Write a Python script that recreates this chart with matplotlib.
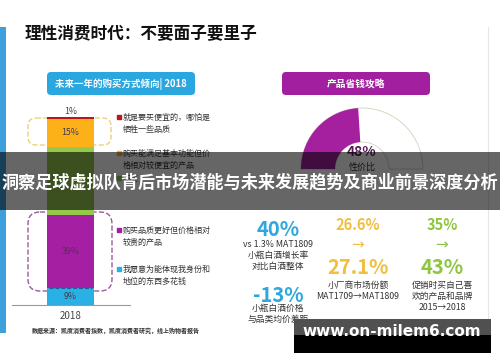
import matplotlib
matplotlib.use('Agg')
import matplotlib.pyplot as plt
from matplotlib.patches import Rectangle, FancyBboxPatch, Wedge

plt.rcParams['font.family'] = ['Noto Sans CJK SC', 'DejaVu Sans']

# --- data ---
title = '理性消费时代：不要面子要里子'
left_header = '未来一年的购买方式倾向| 2018'
right_header = '产品省钱攻略'
year_label = '2018'
share_labels = [
    '就是要买便宜的，哪怕是\n牺牲一些品质',
    '购买能满足基本功能但价\n格相对较便宜的产品',
    '不变',
    '购买品质更好但价格相对\n较贵的产品',
    '我愿意为能体现我身份和\n地位的东西多花钱',
]
shares = [1, 15, 36, 39, 9]  # top to bottom
share_colors = ['#c0141b', '#fbb117', '#93c84b', '#a41fa2', '#29b1e6']
gauge_value = 48
gauge_label = '性价比'
source_note = '数据来源：凯度消费者指数，凯度消费者研究，线上购物者报告'

stat_big = ['40%', '-13%']
stat_big_notes = ['vs 1.3% MAT1809\n小瓶白酒增长率\n对比白酒整体', '小瓶白酒价格\n与品类均价差距']
shift_before = ['26.6%', '35%']
shift_after = ['27.1%', '43%']
shift_notes = ['小厂商市场份额\nMAT1709→MAT1809', '促销时买自己喜\n欢的产品和品牌\n2015→2018']
shift_colors = ['#f2be3c', '#8dc63f']
stat_blue = '#2ea8dc'

overlay_text = '洞察足球虚拟队背后市场潜能与未来发展趋势及商业前景深度分析'
watermark = 'www.on-milem6.com'

W, H = 500, 362
fig = plt.figure(figsize=(W / 100, H / 100), dpi=100)

# background axes in pixel units
ax = fig.add_axes([0, 0, 1, 1])
ax.set_xlim(0, W)
ax.set_ylim(H, 0)
ax.axis('off')

ax.add_patch(Rectangle((0, 27), 6, 306, color='#3d9fdc', lw=0))
ax.plot([488, 488], [27, 335], color='#e6e6e6', lw=0.8)

ax.text(25, 34, title, fontsize=12, fontweight='black', color='#111111', va='center')

ax.add_patch(FancyBboxPatch((47, 72), 148, 23, boxstyle='round,pad=0,rounding_size=4',
                            fc='#2aa7df', ec='none'))
ax.text(121, 83.5, left_header, fontsize=6.8, fontweight='bold', color='white',
        ha='center', va='center')

ax.add_patch(FancyBboxPatch((282, 72), 148, 23, boxstyle='round,pad=0,rounding_size=4',
                            fc='#a21fa0', ec='none'))
ax.text(356, 83.5, right_header, fontsize=7, fontweight='bold', color='white',
        ha='center', va='center')

# dashed groupings around the bar
ax.add_patch(FancyBboxPatch((28, 118), 83, 27, boxstyle='round,pad=0,rounding_size=8',
                            fc='none', ec='#ead27a', lw=1, ls='--'))
ax.add_patch(FancyBboxPatch((28, 212), 84, 79, boxstyle='round,pad=0,rounding_size=12',
                            fc='none', ec='#9b5a9b', lw=1, ls='--'))

# legend
legend_y = [117, 153, 178, 230, 269]
for lab, col, y in zip(share_labels, share_colors, legend_y):
    ax.plot(119, y, marker='s', ms=3, color=col)
    ax.text(123, y - 4.5, lab, fontsize=5.8, color='#333333', va='top', linespacing=1.45)

ax.text(32, 330, source_note, fontsize=4.3, fontweight='bold', color='#333333', va='center')

# stats block
col_x = [278, 358, 442]
ax.text(col_x[0], 230, stat_big[0], fontsize=14.5, fontweight='bold', color=stat_blue,
        ha='center', va='center')
ax.text(col_x[0], 240, stat_big_notes[0], fontsize=6.3, color='#333333', ha='center',
        va='top', linespacing=1.3)
ax.text(col_x[0], 295, stat_big[1], fontsize=14.5, fontweight='bold', color=stat_blue,
        ha='center', va='center')
ax.text(col_x[0], 304, stat_big_notes[1], fontsize=6.3, color='#333333', ha='center',
        va='top', linespacing=1.3)
for i in range(2):
    x = col_x[i + 1]
    c = shift_colors[i]
    ax.text(x, 225, shift_before[i], fontsize=10.5, fontweight='bold', color=c,
            ha='center', va='center')
    ax.text(x, 245, '→', fontsize=11, color=c, ha='center', va='center',
            family='DejaVu Sans')
    ax.text(x, 268, shift_after[i], fontsize=14.5, fontweight='bold', color=c,
            ha='center', va='center')
    ax.text(x, 281, shift_notes[i], fontsize=6.3, color='#333333', ha='center',
            va='top', linespacing=1.25)

# stacked bar
axb = fig.add_axes([12 / W, 57 / H, 118 / W, 188 / H])
axb.set_xlim(0, 118)
axb.set_ylim(0, 100)
axb.patch.set_alpha(0)
bottom = 0
for v, col in zip(shares[::-1], share_colors[::-1]):
    axb.bar(58.5, v, width=47, bottom=bottom, color=col, lw=0)
    if v == 1:
        axb.text(58.5, bottom + v + 0.3, f'{v}%', fontsize=6.3, color='#444444',
                 ha='center', va='bottom')
    elif col != '#93c84b':
        axb.text(58.5, bottom + v / 2, f'{v}%', fontsize=6.3, color='#4a3a4a',
                 ha='center', va='center')
    bottom += v
axb.plot([37, 80], [9, 9], color='#2a5a9a', lw=0.8, ls='--')
for s in ['top', 'left', 'right']:
    axb.spines[s].set_visible(False)
axb.spines['bottom'].set_color('#999999')
axb.spines['bottom'].set_linewidth(0.8)
axb.set_yticks([])
axb.set_xticks([58.5], [year_label])
axb.tick_params(axis='x', length=0, labelsize=7, labelcolor='#444444', pad=4)

# gauge
axg = fig.add_axes([298 / W, (H - 174) / H, 130 / W, 70 / H])
axg.set_xlim(-64, 66)
axg.set_ylim(-5, 65)
axg.axis('off')
axg.add_patch(Wedge((0, 0), 61, 0, 180, width=34, fc='none', ec='#d8d8c6', lw=0.7))
axg.add_patch(Wedge((0, 0), 61, 180 - 180 * gauge_value / 100, 180, width=34,
                    fc='#a4209f', ec='none'))
axg.text(0, 17, f'{gauge_value}%', fontsize=10, fontweight='bold', color='#5a1a5a',
         ha='center', va='center')
axg.text(0, 2, gauge_label, fontsize=6.5, color='#333333', ha='center', va='center')

# overlays on top of everything
top = fig.add_axes([0, 0, 1, 1])
top.set_zorder(10)
top.set_xlim(0, W)
top.set_ylim(H, 0)
top.axis('off')
top.patch.set_alpha(0)
top.add_patch(Rectangle((0, 152), W, 58, color='black', alpha=0.6, lw=0))
top.text(W / 2, 182, overlay_text, fontsize=12.3, fontweight='bold', color='white',
         ha='center', va='center')
top.add_patch(Rectangle((294, 319), 197, 16, color='#505050', lw=0))
top.add_patch(Rectangle((294, 335), 197, 18, color='black', lw=0))
top.text(392, 332, watermark, fontsize=11, fontweight='bold', color='white',
         ha='center', va='center', family='DejaVu Sans')

fig.savefig('out.png', dpi=100)
